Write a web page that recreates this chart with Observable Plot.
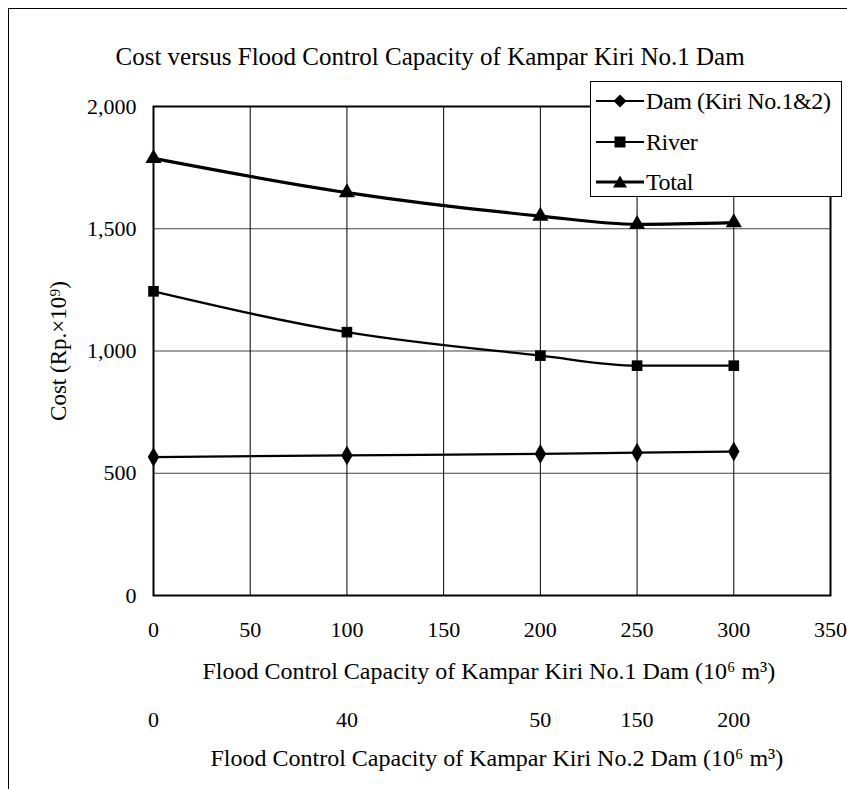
<!DOCTYPE html>
<html>
<head>
<meta charset="utf-8">
<script src="https://cdn.jsdelivr.net/npm/d3@7"></script>
<script src="https://cdn.jsdelivr.net/npm/@observablehq/plot@0.6"></script>
<style>
  html, body { margin: 0; padding: 0; background: #fff; }
  #wrap { position: relative; width: 847px; height: 789px; overflow: hidden; font-family: "Liberation Serif", "Times New Roman", serif; }
  #border { position: absolute; left: 8px; top: 8px; right: -10px; bottom: -10px; border-left: 1.5px solid #000; border-top: 1.5px solid #000; }
  #legend { position: absolute; left: 590px; top: 81px; width: 250px; height: 114px; border: 1.5px solid #000; background: #fff; }
  .row { position: absolute; left: 0; height: 30px; display: flex; align-items: center; font-size: 24px; color: #000; letter-spacing: -0.4px; }
  .row svg { margin-left: 4px; margin-right: 1px; }
</style>
</head>
<body>
<div id="wrap">
  <div id="border"></div>
  <div id="chart"></div>
  <div id="legend"></div>
</div>
<script>
// ---- data ----
const capacity1 = [0, 100, 200, 250, 300];          // Kampar Kiri No.1 Dam (10^6 m^3)
const capacity2Labels = ["0", "40", "50", "150", "200"]; // Kampar Kiri No.2 Dam (10^6 m^3)
const damCost = [566, 573, 579, 584, 589];
const riverCost = [1244, 1077, 981, 940, 940];
const totalCost = [1788, 1648, 1552, 1518, 1525];
const seriesNames = ["Dam (Kiri No.1&2)", "River", "Total"];
const seriesSymbols = ["diamond", "square", "triangle"];
const xTicks = [0, 50, 100, 150, 200, 250, 300, 350];
const yTicks = [0, 500, 1000, 1500, 2000];
const yGrid = [500, 1000, 1500];
const xGrid = [50, 100, 150, 200, 250, 300];

const rows = [];
[damCost, riverCost, totalCost].forEach((vals, i) => {
  vals.forEach((v, j) => rows.push({series: seriesNames[i], x: capacity1[j], y: v}));
});
const tick2 = capacity1.map((x, i) => ({x, label: capacity2Labels[i]}));

const chart = Plot.plot({
  width: 847,
  height: 789,
  marginLeft: 153,
  marginRight: 17,
  marginTop: 106,
  marginBottom: 194,
  style: {fontFamily: "'Liberation Serif', 'Times New Roman', serif", fontSize: "23px", background: "transparent", color: "#000"},
  x: {domain: [0, 350]},
  y: {domain: [0, 2000]},
  symbol: {domain: seriesNames, range: seriesSymbols},
  marks: [
    Plot.ruleY(yGrid, {stroke: "#444", strokeWidth: 1}),
    Plot.ruleX(xGrid, {stroke: "#000", strokeWidth: 1}),
    Plot.frame({stroke: "#000", strokeWidth: 2}),
    Plot.axisY({ticks: yTicks, tickFormat: d3.format(","), tickSize: 0, tickPadding: 17, label: null, fontSize: 22, style: {letterSpacing: "-1.2px"}}),
    Plot.axisX({ticks: xTicks, tickSize: 0, tickPadding: 26, label: null, fontSize: 22, style: {letterSpacing: "-1.2px"}}),
    Plot.line(rows, {x: "x", y: "y", z: "series", stroke: "#000", strokeWidth: d => d.series === "Total" ? 3.2 : 2.3, curve: "monotone-x"}),
    Plot.dot(rows, {x: "x", y: "y", symbol: "series", fill: "#000", r: 6}),
    Plot.text(tick2, {x: "x", text: "label", frameAnchor: "bottom", lineAnchor: "middle", dy: 124, fontSize: 22, style: {letterSpacing: "-1.2px"}}),
    Plot.text(["Cost versus Flood Control Capacity of Kampar Kiri No.1 Dam"], {frameAnchor: "top-left", textAnchor: "start", lineAnchor: "middle", dx: -38, dy: -50, fontSize: 25, style: {letterSpacing: "-0.4px"}}),
    Plot.text(["Flood Control Capacity of Kampar Kiri No.1 Dam (10⁶ m³)"], {frameAnchor: "bottom-left", textAnchor: "start", lineAnchor: "middle", dx: 49, dy: 76, fontSize: 24, style: {letterSpacing: "-0.2px"}}),
    Plot.text(["Flood Control Capacity of Kampar Kiri No.2 Dam (10⁶ m³)"], {frameAnchor: "bottom-left", textAnchor: "start", lineAnchor: "middle", dx: 57, dy: 163, fontSize: 24, style: {letterSpacing: "-0.2px"}}),
    Plot.text(["Cost (Rp.×10⁹)"], {frameAnchor: "left", textAnchor: "middle", lineAnchor: "middle", rotate: -90, dx: -95, fontSize: 23})
  ]
});
document.getElementById("chart").appendChild(chart);

// ---- legend ----
const legend = document.getElementById("legend");
const rowTops = [4, 45, 85];
const symPaths = {
  diamond: '<path d="M25,8.5 L31.5,15 L25,21.5 L18.5,15 Z" fill="#000"/>',
  square: '<rect x="19.5" y="9.5" width="11" height="11" fill="#000"/>',
  triangle: '<path d="M25,8.5 L32,20.5 L18,20.5 Z" fill="#000"/>'
};
seriesNames.forEach((name, i) => {
  const r = document.createElement("div");
  r.className = "row";
  r.style.top = rowTops[i] + "px";
  const sw = i === 2 ? 3 : 2;
  r.innerHTML = `<svg width="50" height="30"><line x1="1" y1="15" x2="49" y2="15" stroke="#000" stroke-width="${sw}"/>${symPaths[seriesSymbols[i]]}</svg><span>${name}</span>`;
  legend.appendChild(r);
});
</script>
</body>
</html>
